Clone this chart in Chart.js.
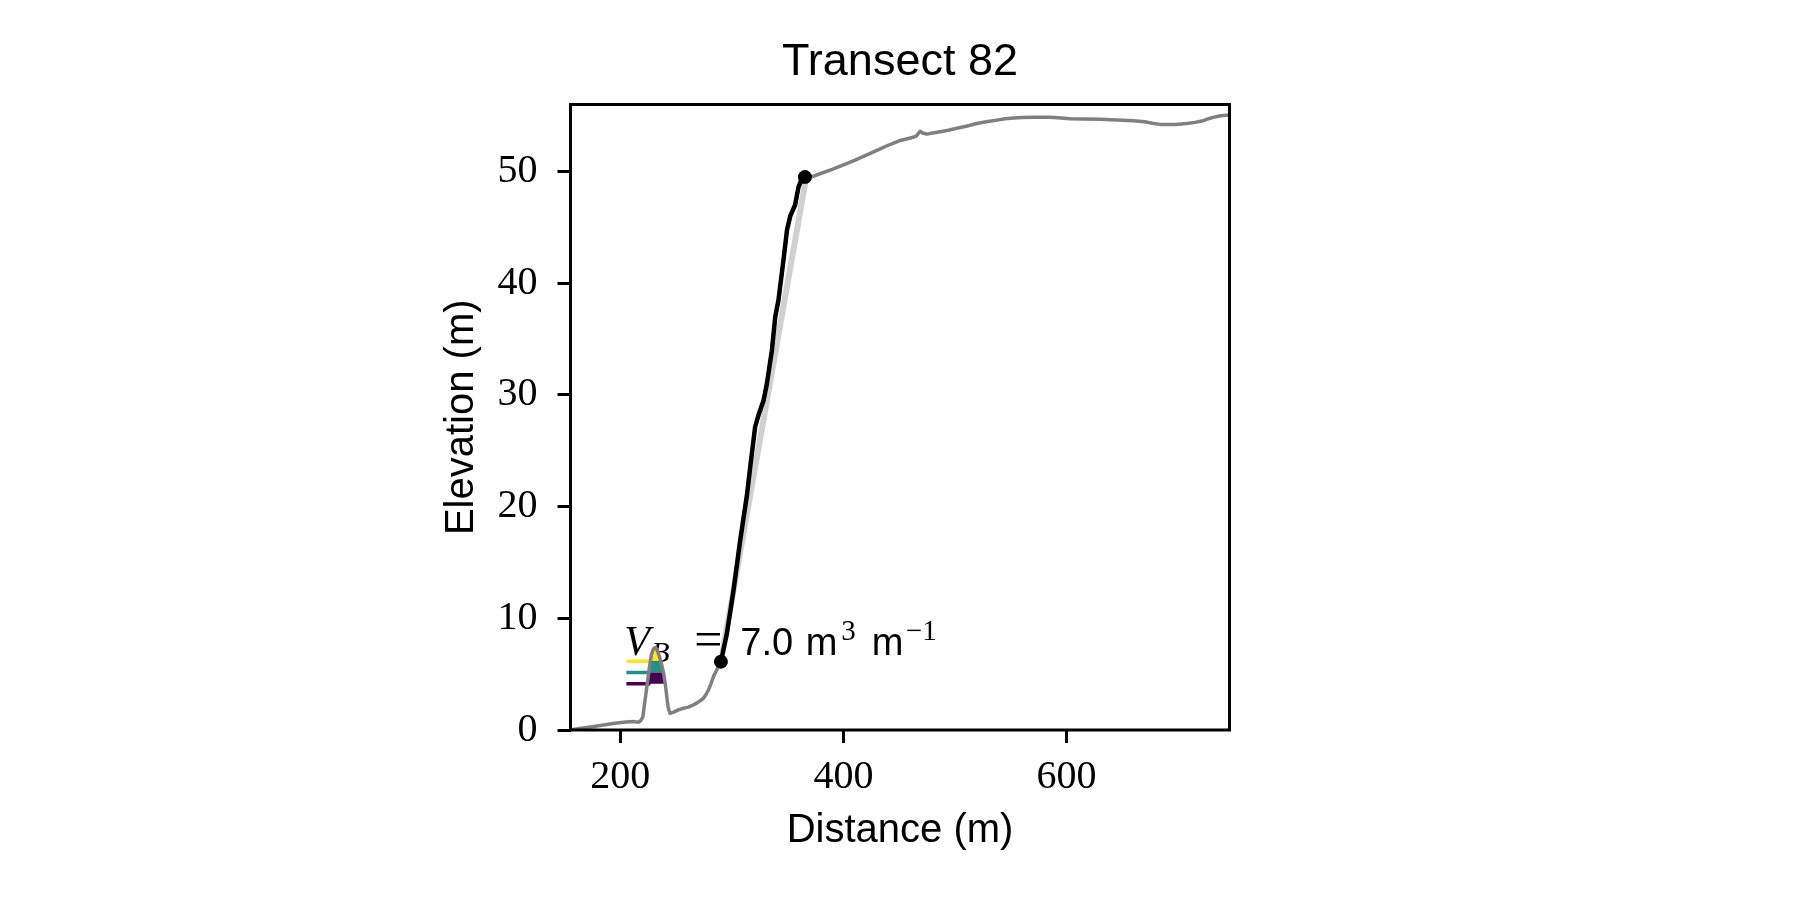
<!DOCTYPE html>
<html><head><meta charset="utf-8">
<script src="https://cdn.jsdelivr.net/npm/chart.js@4/dist/chart.umd.min.js"></script>
<style>html,body{margin:0;padding:0;background:#fff;} #wrap{width:1800px;height:900px;}</style>
</head><body><div id="wrap"><canvas id="c" width="1800" height="900"></canvas></div>
<script>
// ---- data ----
const profileX = [155.4,165,175,185,195,205,212,216.5,218.5,220.3,222,224,226,228,230,231.5,233,235,237,239,240.5,241.8,243,244.5,248,252,256.7,261,265.7,270,274.6,277,279.1,281.5,283.6,286.5,290.2,
  295.6,301.5,307.5,313.5,317,320.9,323.9,328.4,331.4,335.9,338.9,341.8,346.3,349.5,352.3,356.7,359.7,362.5,365.5,
  372,379,390,400,410,420,430,440,450,460,465,468.7,471,474.7,480,486.6,494,501.6,510,519.5,528,537.4,545,552.3,560,570,585,595,603,615,630,645,660,670,678,684,690,698,707.6,715,722.5,728,731.4,738,746];
const profileY = [0.0,0.15,0.3,0.45,0.6,0.72,0.75,0.7,0.85,1.2,2.5,4.0,5.5,6.8,7.3,7.4,7.2,6.6,5.9,5.0,4.0,2.9,2.0,1.5,1.6,1.8,1.95,2.05,2.25,2.5,2.84,3.2,3.6,4.2,4.8,5.4,6.12,
  8.66,12.5,17.0,21.0,24.0,27.15,28.2,29.5,31.0,34.0,37.0,38.5,42.1,44.8,46.0,47.0,48.6,49.3,49.5,
  49.55,49.8,50.2,50.6,51.0,51.45,51.9,52.35,52.75,53.0,53.15,53.6,53.45,53.35,53.45,53.56,53.7,53.87,54.05,54.3,54.45,54.6,54.72,54.8,54.84,54.86,54.85,54.8,54.73,54.7,54.67,54.62,54.55,54.45,54.3,54.22,54.2,54.22,54.3,54.4,54.55,54.75,54.85,55.0,55.06];
const cliffX = [290.2,295.6,301.5,307.5,313.5,317,320.9,323.9,328.4,331.4,335.9,338.9,341.8,346.3,349.5,352.3,356.7,359.7,362.5,365.5];
const cliffY = [6.12,8.66,12.5,17.0,21.0,24.0,27.15,28.2,29.5,31.0,34.0,37.0,38.5,42.1,44.8,46.0,47.0,48.6,49.3,49.5];
const trendX = [290.2, 366.5];
const trendY = [6.12, 49.4];
const markerX = [290.2, 365.5];
const markerY = [6.12, 49.5];
const levelColors = ['#440154', '#21918c', '#fde725'];
const levelY = [4.15, 5.15, 6.15];
const levelX = [205.5, 227];
const bandPurpleX = [224.2,225.5,238.7,239,240.3];
const bandPurpleY = [4.15,5.15,5.15,5.0,4.15];
const bandTealX = [225.5,226,226.9,236.3,237,238.7];
const bandTealY = [5.15,5.5,6.15,6.15,5.9,5.15];
const bandYellowX = [226.9,228,230,231.5,233,235,236.3];
const bandYellowY = [6.15,6.8,7.3,7.4,7.2,6.6,6.15];
const xTicks = [200, 400, 600];
const yTicks = [0, 10, 20, 30, 40, 50];
const xRange = [155.4, 746];
const yRange = [0, 56];
const volumeValue = 7.0;
const annotAt = [209, 6.7];

const SERIF = "'Liberation Serif','DejaVu Serif',serif";
const SANS = "'Liberation Sans','DejaVu Sans',sans-serif";
const pts = (xs, ys) => xs.map((v, i) => ({x: v, y: ys[i]}));

const datasets = [];
datasets.push({label:'markers', data: pts(markerX, markerY), showLine:false, pointRadius:7, pointBackgroundColor:'#000', pointBorderWidth:0, order:0});
datasets.push({label:'cliff', data: pts(cliffX, cliffY), showLine:true, borderColor:'#000', borderWidth:4.5, pointRadius:0, fill:false, order:1, borderJoinStyle:'round', borderCapStyle:'round'});
datasets.push({label:'trend', data: pts(trendX, trendY), showLine:true, borderColor:'#d0d0d0', borderWidth:6, pointRadius:0, fill:false, order:2});
datasets.push({label:'profile', data: pts(profileX, profileY), showLine:true, borderColor:'#808080', borderWidth:3.5, pointRadius:0, fill:false, order:3, borderJoinStyle:'round', borderCapStyle:'round'});
levelY.forEach((lv, i) => {
  datasets.push({label:'level'+i, data: pts(levelX, [lv, lv]), showLine:true, borderColor: levelColors[i], borderWidth:3.5, pointRadius:0, fill:false, order:4+i});
});
const bands = [[bandPurpleX, bandPurpleY], [bandTealX, bandTealY], [bandYellowX, bandYellowY]];
bands.forEach((b, i) => {
  datasets.push({label:'band'+i, data: pts(b[0], b[1]), showLine:true, borderWidth:0, borderColor:'rgba(0,0,0,0)', backgroundColor: levelColors[i], pointRadius:0, fill:'shape', order:8+i});
});

const annotPlugin = {
  id: 'vbText',
  beforeDatasetsDraw(chart) {
    const {ctx, scales: {x, y}} = chart;
    const x0 = x.getPixelForValue(annotAt[0]);
    const y0 = y.getPixelForValue(annotAt[1]);
    const parts = [
      ['V', 'italic 42px ' + SERIF, -6, 0],
      ['B', 'italic 30px ' + SERIF, 21, 7],
      ['=', '50px ' + SERIF, 64, 1],
      [volumeValue.toFixed(1), '38px ' + SANS, 110, 0],
      ['m', '38px ' + SANS, 175.5, 0],
      ['3', '29px ' + SERIF, 211, -15],
      ['m', '38px ' + SANS, 241.5, 0],
      ['\u22121', '29px ' + SERIF, 275.5, -15]
    ];
    ctx.save();
    ctx.fillStyle = '#000';
    ctx.textAlign = 'left';
    ctx.textBaseline = 'alphabetic';
    parts.forEach(p => { ctx.font = p[1]; ctx.fillText(p[0], x0 + p[2], y0 + p[3]); });
    ctx.restore();
  }
};
const framePlugin = {
  id: 'frame',
  afterDatasetsDraw(chart) {
    const {ctx, chartArea: a} = chart;
    ctx.save();
    ctx.strokeStyle = '#000';
    ctx.lineWidth = 3;
    ctx.strokeRect(a.left, a.top, a.right - a.left, a.bottom - a.top);
    ctx.restore();
  }
};

new Chart(document.getElementById('c'), {
  type: 'scatter',
  data: {datasets},
  plugins: [annotPlugin, framePlugin],
  options: {
    responsive: false,
    devicePixelRatio: 1,
    animation: false,
    events: [],
    layout: {padding: {left: 437.5, right: 570.5, top: 0, bottom: 45}},
    plugins: {
      legend: {display: false},
      tooltip: {enabled: false},
      title: {display: true, text: 'Transect 82', fullSize: false, color: '#000',
        font: {family: SANS, size: 45, weight: 'normal', lineHeight: 1.2},
        padding: {top: 36, bottom: 14.5}}
    },
    scales: {
      x: {
        type: 'linear', min: xRange[0], max: xRange[1],
        afterBuildTicks: s => { s.ticks = xTicks.map(v => ({value: v})); },
        afterFit: s => { s.height = 125; },
        grid: {drawOnChartArea: false, drawTicks: true, tickLength: 13, tickWidth: 3, tickColor: '#000'},
        border: {display: false},
        ticks: {color: '#000', padding: 10, maxRotation: 0, font: {family: SERIF, size: 40, lineHeight: 1.2}, callback: v => String(v)},
        title: {display: true, text: 'Distance (m)', color: '#000', padding: {top: 0, bottom: 0},
          font: {family: SANS, size: 40, lineHeight: 1.2}}
      },
      y: {
        type: 'linear', min: yRange[0], max: yRange[1],
        afterBuildTicks: s => { s.ticks = yTicks.map(v => ({value: v})); },
        afterFit: s => { s.width = 133; },
        grid: {drawOnChartArea: false, drawTicks: true, tickLength: 13, tickWidth: 3, tickColor: '#000'},
        border: {display: false},
        ticks: {color: '#000', padding: 20, font: {family: SERIF, size: 40, lineHeight: 1.2}, callback: v => String(v)},
        title: {display: true, text: 'Elevation (m)', color: '#000', padding: {top: 0, bottom: 0},
          font: {family: SANS, size: 40, lineHeight: 1.2}}
      }
    }
  }
});
</script></body></html>
